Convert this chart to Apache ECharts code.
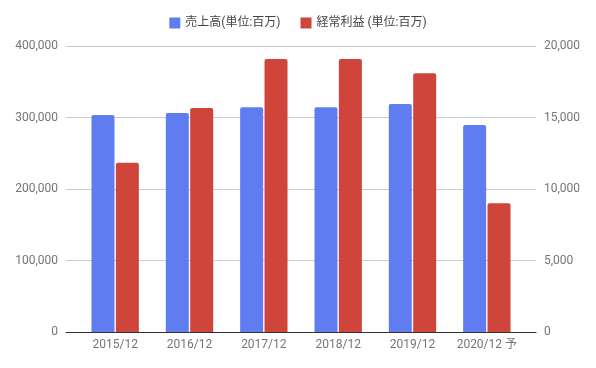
<!DOCTYPE html>
<html><head><meta charset="utf-8">
<script src="https://cdn.jsdelivr.net/npm/echarts@6/dist/echarts.min.js"></script>
<style>html,body{margin:0;padding:0;background:#fff}#c{width:596px;height:368px}</style>
</head><body><div id="c"></div>
<script>
const categories = ['2015/12','2016/12','2017/12','2018/12','2019/12','2020/12 予'];
const salesName = '売上高(単位:百万)';
const profitName = '経常利益 (単位:百万)';
const sales = [303600, 306400, 314400, 314400, 319000, 289600];
const profit = [11830, 15670, 19090, 19090, 18090, 9010];
const leftTicks = [0, 100000, 200000, 300000, 400000];
const rightTicks = [0, 5000, 10000, 15000, 20000];

const font = 'Roboto, "Noto Sans CJK JP", sans-serif';
const chart = echarts.init(document.getElementById('c'), null, {renderer:'canvas'});
const fmt = v => v.toLocaleString('en-US');
chart.setOption({
  animation:false,
  textStyle:{fontFamily:font},
  legend:{
    top:12, left:'center', itemWidth:11, itemHeight:11, itemGap:20,
    icon:'rect',
    textStyle:{fontFamily:font, fontSize:12, color:'#444'},
    data:[salesName, profitName]
  },
  grid:[
    {left:66, right:60, top:46, bottom:36},
    {left:78, right:72, top:46, bottom:36}
  ],
  xAxis:[
    {gridIndex:0, type:'value', min:0, max:1, axisLine:{show:true, onZero:false, lineStyle:{color:'#333', width:1}},
     axisTick:{show:false}, axisLabel:{show:false}, splitLine:{show:false}},
    {gridIndex:1, type:'category', data:categories, axisLine:{show:false}, axisTick:{show:false},
     axisLabel:{interval:0, margin:7, color:'#757575', fontSize:12, fontFamily:font}}
  ],
  yAxis:[
    {gridIndex:0, type:'value', min:leftTicks[0], max:leftTicks[leftTicks.length-1], interval:leftTicks[1]-leftTicks[0],
     axisLine:{show:false}, axisTick:{show:false},
     axisLabel:{margin:8, color:'#757575', fontSize:12, fontFamily:font, formatter:fmt},
     splitLine:{lineStyle:{color:'#cccccc'}}},
    {gridIndex:0, type:'value', position:'right', min:rightTicks[0], max:rightTicks[rightTicks.length-1], interval:rightTicks[1]-rightTicks[0],
     axisLine:{show:false}, axisTick:{show:false},
     axisLabel:{margin:8, color:'#757575', fontSize:12, fontFamily:font, formatter:fmt},
     splitLine:{show:false}},
    {gridIndex:1, type:'value', min:leftTicks[0], max:leftTicks[leftTicks.length-1], show:false},
    {gridIndex:1, type:'value', min:rightTicks[0], max:rightTicks[rightTicks.length-1], show:false}
  ],
  series:[
    {name:salesName, type:'bar', xAxisIndex:1, yAxisIndex:2, data:sales, barWidth:23, barGap:'6%',
     itemStyle:{color:'#5f7cf0', borderRadius:[2,2,0,0]}},
    {name:profitName, type:'bar', xAxisIndex:1, yAxisIndex:3, data:profit, barWidth:23, barGap:'6%',
     itemStyle:{color:'#cf453b', borderRadius:[2,2,0,0]}}
  ]
});
</script></body></html>
